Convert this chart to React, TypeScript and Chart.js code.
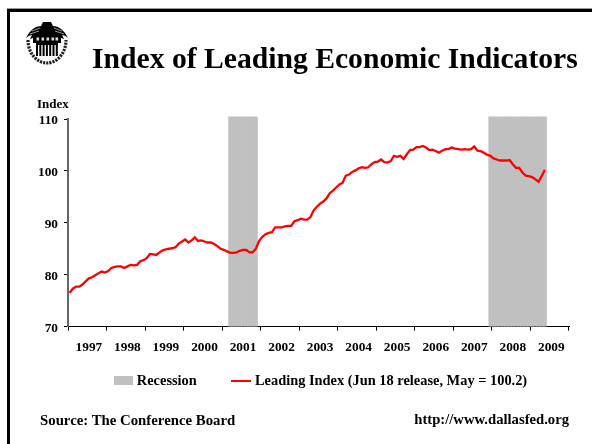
import React, { useEffect, useRef } from "react";
import { Chart, registerables } from "chart.js";

Chart.register(...registerables);

const YEARS = ["1997","1998","1999","2000","2001","2002","2003","2004","2005","2006","2007","2008","2009"];
const MONTHS_PER_YEAR = 12;
const TITLE = "Index of Leading Economic Indicators";
const RECESSION_LABEL = "Recession";
const LINE_LABEL = "Leading Index (Jun 18 release, May = 100.2)";
const SOURCE = "Source: The Conference Board";
const URL_TEXT = "http://www.dallasfed.org";
const Y_TITLE = "Index";

const index1997 = [76.5,77.3,77.7,77.7,78.1,78.7,79.3,79.5,79.9,80.3,80.6,80.4];
const index1998 = [80.7,81.3,81.5,81.6,81.6,81.3,81.6,81.9,81.8,81.9,82.6,82.8];
const index1999 = [83.2,84.0,83.9,83.8,84.3,84.7,84.9,85.0,85.1,85.3,86.0,86.4];
const index2000 = [86.8,86.2,86.6,87.2,86.5,86.6,86.4,86.2,86.2,85.9,85.5,85.0];
const index2001 = [84.8,84.5,84.2,84.2,84.3,84.6,84.8,84.8,84.3,84.3,85.0,86.5];
const index2002 = [87.3,87.8,88.05,88.2,89.1,89.1,89.1,89.3,89.4,89.4,90.3,90.5];
const index2003 = [90.8,90.6,90.6,91.1,92.4,93.1,93.7,94.1,94.7,95.7,96.2,96.8];
const index2004 = [97.4,97.7,99.1,99.3,99.8,100.1,100.5,100.7,100.6,100.7,101.3,101.7];
const index2005 = [101.8,102.2,101.7,101.6,101.9,102.9,102.7,102.9,102.3,103.2,104.0,104.1];
const index2006 = [104.6,104.6,104.8,104.5,104.0,104.1,103.85,103.5,103.9,104.2,104.2,104.5];
const index2007 = [104.3,104.2,104.1,104.2,104.1,104.2,104.7,103.9,103.8,103.5,103.1,102.9];
const index2008 = [102.4,102.2,102.0,102.0,102.0,102.1,101.3,100.6,100.6,99.7,99.1,99.0];
const index2009 = [98.8,98.4,97.9,99.0,100.2];

// Recession spans as [first month, last month], counted in months since Jan 1997.
const recessionSpans: [number, number][] = [[50, 58], [131, 148]];
const RECESSION_TOP = 110.4;
const Y_MIN = 70;
const Y_MAX = 110;

const leadingIndex = [
  ...index1997, ...index1998, ...index1999, ...index2000, ...index2001, ...index2002, ...index2003,
  ...index2004, ...index2005, ...index2006, ...index2007, ...index2008, ...index2009,
];
const monthLabels = YEARS.flatMap((y) => Array.from({ length: MONTHS_PER_YEAR }, (_, m) => `${y}-${m + 1}`));
const recessionBars = monthLabels.map((_, i) =>
  recessionSpans.some(([a, b]) => i >= a && i <= b) ? RECESSION_TOP : null
);

const SERIF = "'Liberation Serif', 'Times New Roman', serif";
const GREY = "#c0c0c0";
const RED = "#ff0000";

function swatch(w: number, h: number, color: string) {
  const c = document.createElement("canvas");
  c.width = w;
  c.height = h;
  const g = c.getContext("2d")!;
  g.fillStyle = color;
  g.fillRect(0, 0, w, h);
  return c;
}

const legendShift = {
  id: "legendShift",
  afterLayout(chart: any) {
    chart.legend.left += 3.4;
    chart.legend.right += 3.4;
    chart.legend.top -= 21;
    chart.legend.bottom -= 21;
  },
};

function Seal() {
  const stripes = [12, 15.3, 18.6, 21.9, 25.2, 28.5, 31.8];
  const windows = [12.5, 17.5, 22.5, 27.5, 31.5];
  const wing = "M23 3 L19 3 L17 7 Q8 7 2 19 Q5 16 8 16 L6 20 L14 17 L32 17 L23 14 Z";
  return (
    <svg width={46} height={46} viewBox="0 0 46 46" style={{ position: "absolute", left: 24, top: 19 }}>
      <defs>
        <filter id="b" x="-10%" y="-10%" width="120%" height="120%">
          <feGaussianBlur stdDeviation="0.4" />
        </filter>
      </defs>
      <g filter="url(#b)">
        <path d={wing} fill="#000" />
        <path d={wing} fill="#000" transform="translate(46 0) scale(-1 1)" />
        <path d="M8 12 L16 9 M6 15 L15 12" stroke="#fff" strokeWidth="0.6" />
        <path d="M38 12 L30 9 M40 15 L31 12" stroke="#fff" strokeWidth="0.6" />
        <rect x="9" y="16" width="28" height="8" fill="#000" />
        {windows.map((x) => (
          <rect key={x} x={x} y="18.5" width="2.6" height="3" fill="#ddd" />
        ))}
        {stripes.map((x) => (
          <rect key={x} x={x} y="24" width="2" height="13" fill="#000" />
        ))}
        <path d="M12 24 L34 24 L34 26 L12 26 Z" fill="#000" />
        <path
          d="M4 21 A19 23 0 0 0 42 21"
          fill="none"
          stroke="#222"
          strokeWidth="3.2"
          strokeDasharray="2.2 1"
        />
      </g>
    </svg>
  );
}

const textStyle = (
  left: number | undefined,
  right: number | undefined,
  top: number,
  size: number
): React.CSSProperties => ({
  position: "absolute",
  left,
  right,
  top,
  fontFamily: SERIF,
  fontWeight: "bold",
  fontSize: size,
  lineHeight: `${Math.ceil(size * 1.15)}px`,
  color: "#000",
  whiteSpace: "nowrap",
});

export default function App() {
  const ref = useRef<HTMLCanvasElement>(null);

  useEffect(() => {
    const greyIcon = swatch(19, 9, GREY);
    const redIcon = swatch(20, 2, RED);
    const chart = new Chart(ref.current!, {
      type: "bar",
      plugins: [legendShift],
      data: {
        labels: monthLabels,
        datasets: [
          {
            type: "bar",
            label: RECESSION_LABEL,
            data: recessionBars,
            base: Y_MIN,
            backgroundColor: GREY,
            barPercentage: 1,
            categoryPercentage: 1,
            clip: false,
            order: 2,
          },
          {
            type: "line",
            label: LINE_LABEL,
            data: leadingIndex,
            borderColor: RED,
            borderWidth: 2.3,
            pointRadius: 0,
            tension: 0,
            order: 1,
          },
        ],
      } as any,
      options: {
        responsive: false,
        animation: false,
        layout: { padding: { left: 0, top: 119, right: 23, bottom: 25 } },
        plugins: {
          title: { display: false },
          tooltip: { enabled: false },
          legend: {
            position: "bottom",
            fullSize: false,
            labels: {
              usePointStyle: true,
              pointStyleWidth: 13,
              padding: 38,
              color: "#000",
              font: { family: SERIF, weight: "bold", size: 14.4 },
              generateLabels: () => [
                { text: RECESSION_LABEL, pointStyle: greyIcon, datasetIndex: 0, lineWidth: 0 },
                { text: LINE_LABEL, pointStyle: redIcon, datasetIndex: 1, lineWidth: 0 },
              ],
            },
          },
        },
        scales: {
          x: {
            type: "category",
            offset: true,
            afterFit: (s: any) => { s.height = 30; },
            border: { color: "#000", width: 1 },
            grid: {
              offset: true,
              drawOnChartArea: false,
              tickLength: 4,
              tickColor: (c: any) =>
                c.index === undefined || c.index % MONTHS_PER_YEAR === 0 ? "#000" : "rgba(0,0,0,0)",
            },
            ticks: {
              autoSkip: false,
              maxRotation: 0,
              minRotation: 0,
              padding: 9,
              color: "#000",
              font: { family: SERIF, weight: "bold", size: 13.33 },
              callback: (_: any, i: number) =>
                i % MONTHS_PER_YEAR === 6 ? YEARS[Math.floor(i / MONTHS_PER_YEAR)] : "",
            },
          },
          y: {
            min: Y_MIN,
            max: Y_MAX,
            afterFit: (s: any) => { s.width = 68; },
            border: { color: "#666", width: 2 },
            grid: { drawOnChartArea: false, tickLength: 4, tickColor: "#000" },
            ticks: {
              stepSize: 10,
              padding: 6,
              labelOffset: 1.5,
              color: "#000",
              font: { family: SERIF, weight: "bold", size: 13.33 },
            },
          },
        },
      } as any,
    });
    return () => chart.destroy();
  }, []);

  return (
    <div style={{ position: "fixed", left: 0, top: 0, width: 592, height: 444, background: "#fff", overflow: "hidden" }}>
      <canvas ref={ref} width={592} height={444} style={{ display: "block", position: "absolute", left: 0, top: 0 }} />
      <div style={{ position: "absolute", left: 7, top: 9, right: 0, bottom: 0, borderLeft: "3px solid #000", borderTop: "3px solid #000", boxShadow: "0 -1px 0 #999" }} />
      <Seal />
      <div style={textStyle(92, undefined, 41, 29.65)}>{TITLE}</div>
      <div style={textStyle(37, undefined, 96, 13)}>{Y_TITLE}</div>
      <div style={textStyle(40, undefined, 411, 14.8)}>{SOURCE}</div>
      <div style={textStyle(undefined, 23, 411, 14.67)}>{URL_TEXT}</div>
    </div>
  );
}
